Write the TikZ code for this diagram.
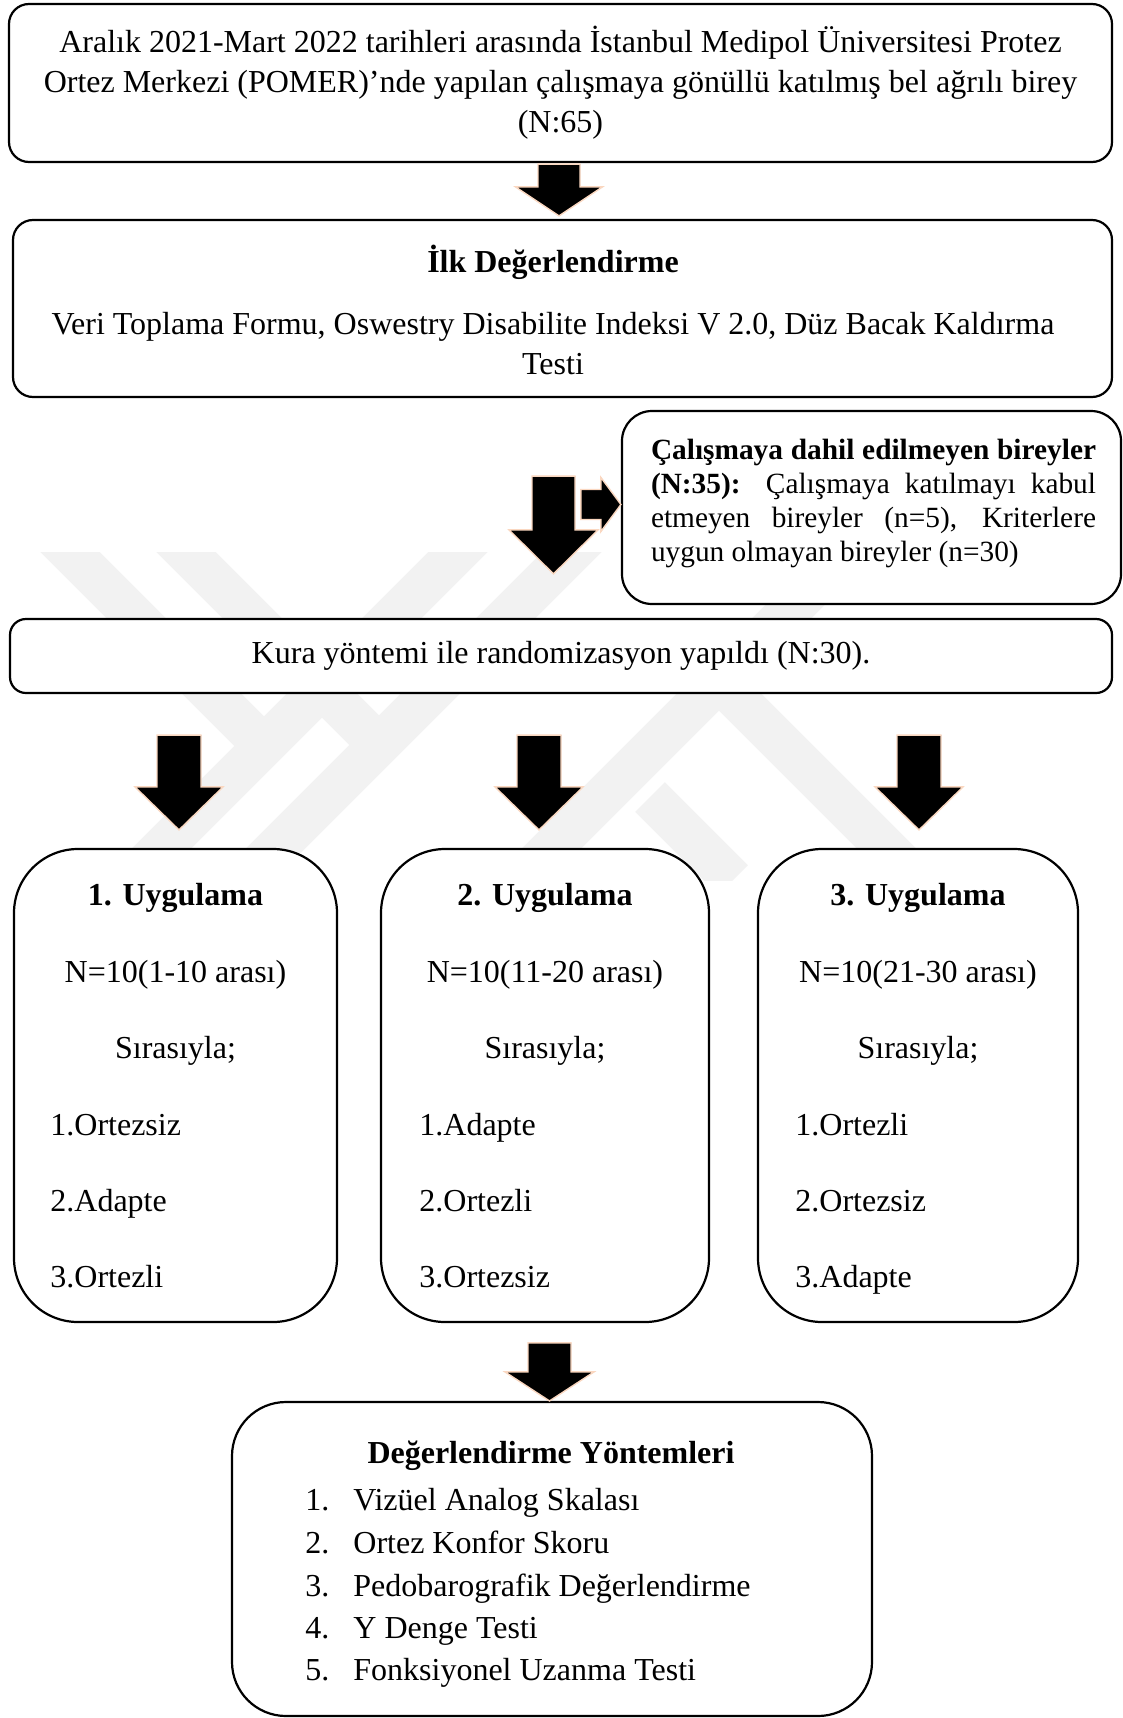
\documentclass[tikz,border=0pt]{standalone}
\usepackage{fontspec}
\setmainfont{Liberation Serif}
\usepackage{tikz}
\usetikzlibrary{calc,positioning}
\definecolor{peachc}{HTML}{FAD7C0}
\definecolor{wmc}{HTML}{F2F2F2}
\tikzset{
  box/.style={draw=black,line width=1.1pt,fill=white,inner sep=0pt,align=center},
  blk/.style={fill=black,draw=peachc,line width=0.7pt},
  txt/.style={inner sep=0pt,anchor=base},
  lft/.style={inner sep=0pt,anchor=base west},
  wm/.style={draw=wmc,line width=21pt}
}
\newcommand{\dnarr}[5]{\filldraw[blk] ($(#1)+(-#3,0)$) -- ($(#1)+(#3,0)$) -- ($(#2)+(#3,-#5)$) -- ($(#2)+(#4,-#5)$) -- (#2) -- ($(#2)+(-#4,-#5)$) -- ($(#2)+(-#3,-#5)$) -- cycle;}

\begin{document}
\fontsize{16}{20}\selectfont
\begin{tikzpicture}[x=0.5pt,y=-0.5pt]
\useasboundingbox (0,0) rectangle (1123,1718);
\fill[white] (0,0) rectangle (1123,1718);
\begin{scope}
\clip (0,552) rectangle (1123,880);
\foreach \xa/\ya/\xb/\yb in {40/522/255/737,156/522/375/741,488/522/130/880,602/522/244/880,830/570/520/880,680/642/918/880,650/797/733/880}
  \draw[wm] (\xa,\ya) -- (\xb,\yb);
\end{scope}

\node[box,rounded corners=10pt,minimum width=551.5pt,minimum height=79pt] (basvuru) at (560.5,83)
 {Aralık 2021-Mart 2022 tarihleri arasında İstanbul Medipol Üniversitesi Protez\\Ortez Merkezi (POMER)’nde yapılan çalışmaya gönüllü katılmış bel ağrılı birey\\(N:65)};
\node[box,rounded corners=10pt,minimum width=549.5pt,minimum height=88.5pt] (ilkdeg) at (562.5,308.5) {};
\node[inner sep=0pt,align=center] (ilkdeg-t) at (553,310)
 {\textbf{İlk Değerlendirme}\\[11pt]Veri Toplama Formu, Oswestry Disabilite Indeksi V 2.0, Düz Bacak Kaldırma\\Testi};
\node[box,rounded corners=15pt,minimum width=249.5pt,minimum height=96.5pt] (dahil) at (871.5,507.5) {};
\node[inner sep=0pt,text width=222.5pt,align=justify,font=\fontsize{14.67}{17}\selectfont] (dahil-t) at (873.5,503)
 {\textbf{Çalışmaya dahil edilmeyen bireyler\linebreak (N:35):} Çalışmaya katılmayı kabul\linebreak etmeyen bireyler (n=5), Kriterlere\linebreak uygun olmayan bireyler (n=30)};
\node[box,rounded corners=8pt,minimum width=551pt,minimum height=37pt] (kura) at (561,656)
 {Kura yöntemi ile randomizasyon yapıldı (N:30).};

\foreach \i/\cx/\w/\lx/\rng/\ia/\ib/\ic in {1/175.5/161.5/50/1-10/Ortezsiz/Adapte/Ortezli,
  2/545/164/419/11-20/Adapte/Ortezli/Ortezsiz, 3/918/160/795/21-30/Ortezli/Ortezsiz/Adapte}{
 \node[box,rounded corners=32pt,minimum width=\w pt,minimum height=236.5pt] (uyg\i) at (\cx,1085.5) {};
 \node[txt] (uyg\i-b) at (\cx,905) {\textbf{\i. Uygulama}};
 \node[txt] (uyg\i-n) at (\cx,982) {N=10(\rng\ arası)};
 \node[txt] (uyg\i-s) at (\cx,1058) {Sırasıyla;};
 \node[lft] (uyg\i-1) at (\lx,1135) {1.\ia};
 \node[lft] (uyg\i-2) at (\lx,1211) {2.\ib};
 \node[lft] (uyg\i-3) at (\lx,1287) {3.\ic};
}

\node[box,rounded corners=27pt,minimum width=320pt,minimum height=157pt] (yontem) at (552,1559) {};
\node[txt] (yontem-b) at (551,1463) {\textbf{Değerlendirme Yöntemleri}};
\foreach \k/\y/\itm in {1/1510/Vizüel Analog Skalası,2/1553/Ortez Konfor Skoru,3/1596/Pedobarografik Değerlendirme,
  4/1638/Y Denge Testi,5/1680/Fonksiyonel Uzanma Testi}{
 \node[lft] (yn\k) at (305,\y) {\k.};
 \node[lft] (yt\k) at (353,\y) {\itm};
}

\coordinate (a1s) at ($(basvuru.south)+(-1.5,1)$);
\coordinate (a1e) at ($(ilkdeg.north)+(-3.5,-3)$);
\dnarr{a1s}{a1e}{21}{43.5}{29}
\coordinate (a2s) at ($(ilkdeg.south)+(-9,78)$);
\coordinate (a2e) at ($(kura.north)+(-7.5,-44)$);
\dnarr{a2s}{a2e}{21.5}{44.5}{44}
\coordinate (a2r) at ($(dahil.west)+(0,-3)$);
\filldraw[blk] ($(a2r)+(-40,-15)$) -- ($(a2r)+(-20,-15)$) -- ($(a2r)+(-20,-27)$) -- (a2r)
 -- ($(a2r)+(-20,27)$) -- ($(a2r)+(-20,15)$) -- ($(a2r)+(-40,15)$) -- cycle;
\foreach \i/\dx in {1/3.5,2/-6,3/1}{
 \coordinate (b\i-s) at ($(kura.south -| uyg\i.north)+(\dx,41)$);
 \coordinate (b\i-e) at ($(uyg\i.north)+(\dx,-18)$);
 \dnarr{b\i-s}{b\i-e}{22}{44}{43}
}
\coordinate (a4e) at ($(yontem.north)+(-2.5,0)$);
\coordinate (a4s) at ($(a4e)+(0,-58)$);
\dnarr{a4s}{a4e}{21.5}{44.5}{29}
\end{tikzpicture}
\end{document}
